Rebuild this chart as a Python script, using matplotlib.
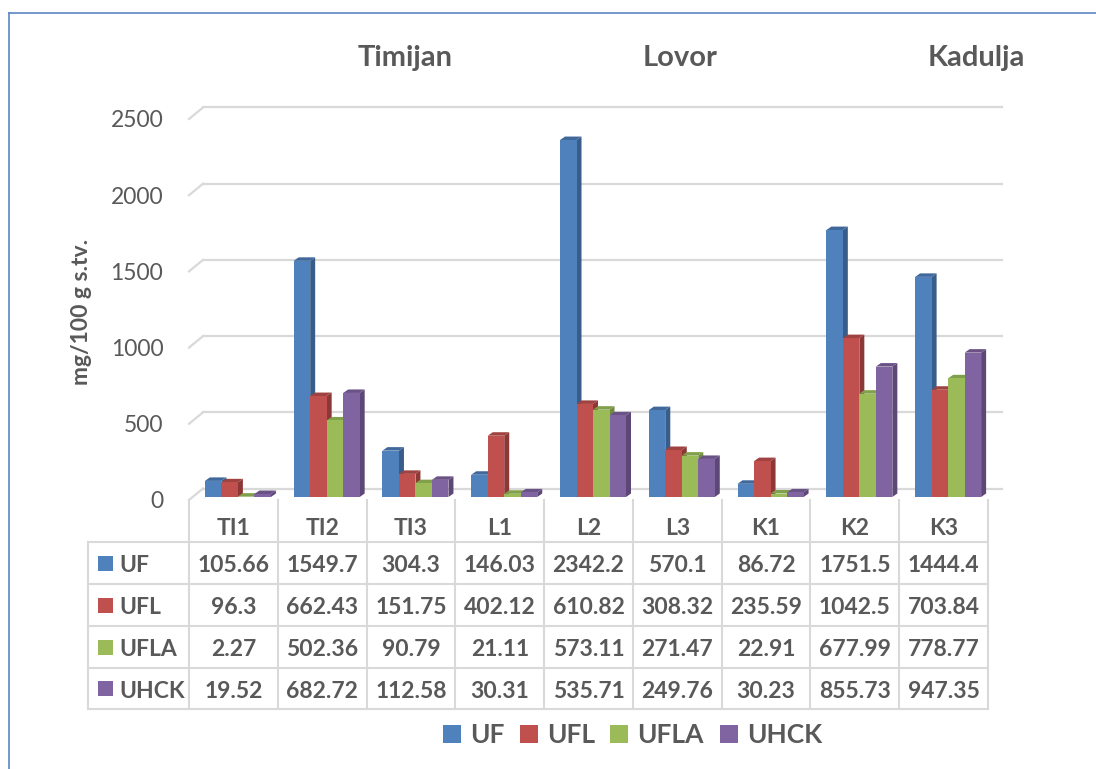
import matplotlib
matplotlib.use("Agg")
import matplotlib.pyplot as plt
from matplotlib.transforms import ScaledTranslation
from matplotlib.patches import Polygon, Rectangle

# ---------------- data ----------------
categories = ["TI1", "TI2", "TI3", "L1", "L2", "L3", "K1", "K2", "K3"]
series_names = ["UF", "UFL", "UFLA", "UHCK"]
uf = [105.66, 1549.7, 304.3, 146.03, 2342.2, 570.1, 86.72, 1751.5, 1444.4]
ufl = [96.3, 662.43, 151.75, 402.12, 610.82, 308.32, 235.59, 1042.5, 703.84]
ufla = [2.27, 502.36, 90.79, 21.11, 573.11, 271.47, 22.91, 677.99, 778.77]
uhck = [19.52, 682.72, 112.58, 30.31, 535.71, 249.76, 30.23, 855.73, 947.35]
group_titles = ["Timijan", "Lovor", "Kadulja"]
y_ticks = [0, 500, 1000, 1500, 2000, 2500]
y_label = "mg/100 g s.tv."

series_values = [uf, ufl, ufla, uhck]
colors = ["#4f81bd", "#c0504d", "#9bbb59", "#8064a2"]
side_colors = ["#385d8a", "#8c3836", "#71893f", "#5c4776"]
top_colors = ["#41689b", "#9f4240", "#80a04a", "#6a5287"]
txt_color = "#595959"
grid_color = "#d9d9d9"

plt.rcParams["font.family"] = ["Lato", "DejaVu Sans"]

W, H = 1096, 769
fig = plt.figure(figsize=(W / 100, H / 100), dpi=100)

# front plane of the plot area (pixels)
x0, x1 = 189, 988
y_zero, y_top = 500, 119
ax = fig.add_axes([x0 / W, (H - y_zero) / H, (x1 - x0) / W, (y_zero - y_top) / H])
ax.set_xlim(-0.5, len(categories) - 0.5)
ax.set_ylim(0, 2500)
ax.set_facecolor("none")
for s in ax.spines.values():
    s.set_visible(False)
ax.set_zorder(2)

ppx = (x1 - x0) / len(categories)   # px per category
ppy = (y_zero - y_top) / 2500.0     # px per unit


def offset(dx, dy):
    return ax.transData + ScaledTranslation(dx / 100, dy / 100, fig.dpi_scale_trans)


# back wall gridlines + left diagonals
back_dx, back_dy = 14, 11.5
for t in y_ticks:
    ax.plot([-0.5, len(categories) - 0.5], [t, t], color=grid_color, lw=1.6,
            transform=offset(back_dx, back_dy), clip_on=False, zorder=0)
    ax.plot([-0.5, -0.5 + back_dx / ppx], [t, t + back_dy / ppy], color=grid_color,
            lw=1.6, clip_on=False, zorder=0)

# 3D-looking bars
front_tr = offset(4.5, 3)
bw = 16.5 / ppx
ddx = 5 / ppx
ddy = 3.5 / ppy
for j, vals in enumerate(series_values):
    xs = [i + (j - 2) * bw for i in range(len(categories))]
    for xl, h in zip(xs, vals):
        xr = xl + bw
        side = Polygon([(xr, 0), (xr, h), (xr + ddx, h + ddy), (xr + ddx, ddy)],
                       closed=True, facecolor=side_colors[j], edgecolor="none",
                       transform=front_tr, clip_on=False, zorder=2 + 2 * j)
        top = Polygon([(xl, h), (xr, h), (xr + ddx, h + ddy), (xl + ddx, h + ddy)],
                      closed=True, facecolor=top_colors[j], edgecolor="none",
                      transform=front_tr, clip_on=False, zorder=2 + 2 * j)
        ax.add_patch(side)
        ax.add_patch(top)
    ax.bar(xs, vals, width=bw, align="edge", color=colors[j], edgecolor="none",
           transform=front_tr, clip_on=False, zorder=3 + 2 * j)

ax.set_xlim(-0.5, len(categories) - 0.5)
ax.set_ylim(0, 2500)
ax.set_xticks([])
ax.set_yticks(y_ticks)
ax.set_yticklabels([str(t) for t in y_ticks])
ax.tick_params(axis="y", length=0, pad=18.5, labelsize=16.5, labelcolor=txt_color)

# ---------------- overlay (table, titles, legend, border) ----------------
ov = fig.add_axes([0, 0, 1, 1])
ov.set_xlim(0, W)
ov.set_ylim(H, 0)
ov.axis("off")
ov.set_zorder(1)

# border
ov.plot([9, 9], [13, H + 5], color="#5b86c5", lw=1.2, clip_on=False)
ov.plot([9, W + 5], [13, 13], color="#5b86c5", lw=1.2, clip_on=False)

# table grid
col_x = [x0 + ppx * i for i in range(len(categories) + 1)]
row_y = [542, 584, 626, 668, 709]
for x in col_x:
    ov.plot([x, x], [500, row_y[-1]], color=grid_color, lw=1.5)
ov.plot([88, 88], [row_y[0], row_y[-1]], color=grid_color, lw=1.5)
for y in row_y:
    ov.plot([88, x1], [y, y], color=grid_color, lw=1.5)

fs = 16.5
for i, c in enumerate(categories):
    ov.text(x0 + ppx * (i + 0.5), 535, c, ha="center", va="baseline",
            fontsize=fs, fontweight="bold", color=txt_color)

for r, (name, vals) in enumerate(zip(series_names, series_values)):
    yc = (row_y[r] + row_y[r + 1]) / 2
    ov.add_patch(Rectangle((98, yc - 7.5), 15, 15, facecolor=colors[r], edgecolor="none"))
    ov.text(119, yc + 9, name, ha="left", va="baseline", fontsize=fs,
            fontweight="bold", color=txt_color)
    for i, v in enumerate(vals):
        ov.text(x0 + ppx * (i + 0.5), yc + 9, f"{v:g}", ha="center", va="baseline",
                fontsize=fs, fontweight="bold", color=txt_color)

# group titles
for t, xc in zip(group_titles, [405.5, 680, 976.5]):
    ov.text(xc, 66, t, ha="center", va="baseline", fontsize=21,
            fontweight="bold", color=txt_color)

# y label
ov.text(82, 312, y_label, rotation=90, ha="center", va="center", fontsize=16.5,
        fontweight="bold", color=txt_color)

# legend
leg_sq_x = [442.7, 520, 610, 720]
leg_tx_x = [470, 546.7, 636.7, 746.7]
for j, name in enumerate(series_names):
    ov.add_patch(Rectangle((leg_sq_x[j], 725), 18, 18, facecolor=colors[j], edgecolor="none"))
    ov.text(leg_tx_x[j], 743, name, ha="left", va="baseline", fontsize=19,
            fontweight="bold", color=txt_color)

fig.savefig("out.png", dpi=100)
